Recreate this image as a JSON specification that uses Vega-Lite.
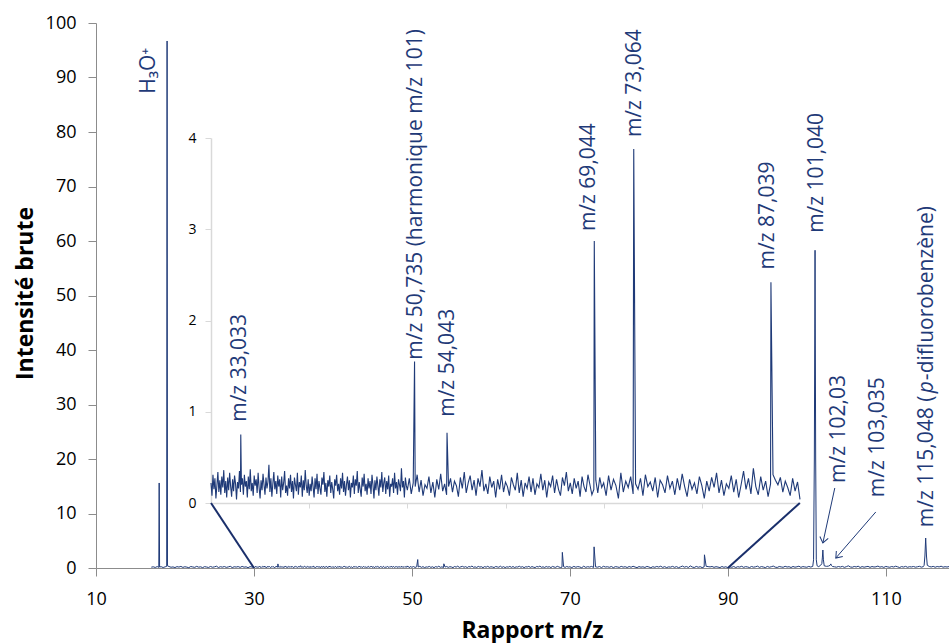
{
"$schema": "https://vega.github.io/schema/vega-lite/v6.json",
"width": 853, "height": 545,
"autosize": {"type": "none"},
"padding": {"left": 96, "top": 23, "right": 0, "bottom": 75},
"background": "white",
"config": {"view": {"stroke": null}, "font": "Open Sans", "axis": {"grid": false}},
"datasets": {
"spec": [
{"mz":17.0,"i":0.15},{"mz":17.25,"i":0.22},{"mz":17.5,"i":0.10},{"mz":17.75,"i":0.26},{"mz":17.95,"i":0.12},{"mz":18.0,"i":15.6},{"mz":18.05,"i":0.18},{"mz":18.25,"i":0.24},{"mz":18.5,"i":0.09},{"mz":18.75,"i":0.21},{"mz":18.95,"i":0.30},{"mz":19.0,"i":96.7},{"mz":19.05,"i":0.40},{"mz":19.25,"i":0.27},{"mz":19.5,"i":0.14},{"mz":19.75,"i":0.20},
{"mz":20.0,"i":0.08},{"mz":20.25,"i":0.25},{"mz":20.5,"i":0.17},{"mz":20.75,"i":0.29},{"mz":21.0,"i":0.11},{"mz":21.25,"i":0.23},{"mz":21.5,"i":0.16},{"mz":21.75,"i":0.06},{"mz":22.0,"i":0.27},{"mz":22.25,"i":0.19},{"mz":22.5,"i":0.12},{"mz":22.75,"i":0.30},{"mz":23.0,"i":0.15},{"mz":23.25,"i":0.22},{"mz":23.5,"i":0.07},{"mz":23.75,"i":0.25},{"mz":24.0,"i":0.18},{"mz":24.25,"i":0.10},{"mz":24.5,"i":0.28},{"mz":24.75,"i":0.14},{"mz":25.0,"i":0.21},{"mz":25.25,"i":0.33},{"mz":25.5,"i":0.09},{"mz":25.75,"i":0.24},{"mz":26.0,"i":0.16},{"mz":26.25,"i":0.27},{"mz":26.5,"i":0.12},{"mz":26.75,"i":0.20},{"mz":27.0,"i":0.31},{"mz":27.25,"i":0.08},{"mz":27.5,"i":0.23},{"mz":27.75,"i":0.17},{"mz":28.0,"i":0.26},{"mz":28.25,"i":0.11},{"mz":28.5,"i":0.29},{"mz":28.75,"i":0.15},{"mz":29.0,"i":0.22},{"mz":29.25,"i":0.06},{"mz":29.5,"i":0.25},{"mz":29.75,"i":0.18},
{"mz":30.0,"i":0.22},{"mz":30.1,"i":0.08},{"mz":30.2,"i":0.31},{"mz":30.3,"i":0.15},{"mz":30.4,"i":0.27},{"mz":30.5,"i":0.05},{"mz":30.6,"i":0.19},{"mz":30.7,"i":0.34},{"mz":30.8,"i":0.12},{"mz":30.9,"i":0.25},
{"mz":31.0,"i":0.09},{"mz":31.1,"i":0.29},{"mz":31.2,"i":0.17},{"mz":31.3,"i":0.36},{"mz":31.4,"i":0.11},{"mz":31.5,"i":0.24},{"mz":31.6,"i":0.06},{"mz":31.7,"i":0.28},{"mz":31.8,"i":0.14},{"mz":31.9,"i":0.33},
{"mz":32.0,"i":0.18},{"mz":32.1,"i":0.07},{"mz":32.2,"i":0.26},{"mz":32.3,"i":0.13},{"mz":32.4,"i":0.30},{"mz":32.5,"i":0.21},{"mz":32.6,"i":0.04},{"mz":32.7,"i":0.23},{"mz":32.8,"i":0.16},{"mz":32.9,"i":0.35},
{"mz":33.0,"i":0.12},{"mz":33.033,"i":0.75},{"mz":33.1,"i":0.20},{"mz":33.2,"i":0.27},{"mz":33.3,"i":0.09},{"mz":33.4,"i":0.31},{"mz":33.5,"i":0.18},{"mz":33.6,"i":0.24},{"mz":33.7,"i":0.06},{"mz":33.8,"i":0.29},{"mz":33.9,"i":0.15},
{"mz":34.0,"i":0.37},{"mz":34.1,"i":0.13},{"mz":34.2,"i":0.22},{"mz":34.3,"i":0.08},{"mz":34.4,"i":0.30},{"mz":34.5,"i":0.19},{"mz":34.6,"i":0.26},{"mz":34.7,"i":0.11},{"mz":34.8,"i":0.33},{"mz":34.9,"i":0.17},
{"mz":35.0,"i":0.05},{"mz":35.1,"i":0.25},{"mz":35.2,"i":0.14},{"mz":35.3,"i":0.32},{"mz":35.4,"i":0.20},{"mz":35.5,"i":0.09},{"mz":35.6,"i":0.28},{"mz":35.7,"i":0.16},{"mz":35.8,"i":0.23},{"mz":35.9,"i":0.42},
{"mz":36.0,"i":0.12},{"mz":36.1,"i":0.27},{"mz":36.2,"i":0.07},{"mz":36.3,"i":0.21},{"mz":36.4,"i":0.34},{"mz":36.5,"i":0.15},{"mz":36.6,"i":0.24},{"mz":36.7,"i":0.10},{"mz":36.8,"i":0.30},{"mz":36.9,"i":0.18},
{"mz":37.0,"i":0.26},{"mz":37.1,"i":0.06},{"mz":37.2,"i":0.29},{"mz":37.3,"i":0.14},{"mz":37.4,"i":0.22},{"mz":37.5,"i":0.35},{"mz":37.6,"i":0.11},{"mz":37.7,"i":0.19},{"mz":37.8,"i":0.08},{"mz":37.9,"i":0.27},
{"mz":38.0,"i":0.16},{"mz":38.1,"i":0.31},{"mz":38.2,"i":0.12},{"mz":38.3,"i":0.24},{"mz":38.4,"i":0.05},{"mz":38.5,"i":0.28},{"mz":38.6,"i":0.20},{"mz":38.7,"i":0.13},{"mz":38.8,"i":0.33},{"mz":38.9,"i":0.09},
{"mz":39.0,"i":0.23},{"mz":39.1,"i":0.17},{"mz":39.2,"i":0.30},{"mz":39.3,"i":0.07},{"mz":39.4,"i":0.25},{"mz":39.5,"i":0.14},{"mz":39.6,"i":0.36},{"mz":39.7,"i":0.19},{"mz":39.8,"i":0.11},{"mz":39.9,"i":0.26},
{"mz":40.0,"i":0.08},{"mz":40.1,"i":0.21},{"mz":40.2,"i":0.13},{"mz":40.3,"i":0.29},{"mz":40.4,"i":0.18},{"mz":40.5,"i":0.06},{"mz":40.6,"i":0.27},{"mz":40.7,"i":0.15},{"mz":40.8,"i":0.32},{"mz":40.9,"i":0.10},
{"mz":41.0,"i":0.24},{"mz":41.1,"i":0.16},{"mz":41.2,"i":0.09},{"mz":41.3,"i":0.28},{"mz":41.4,"i":0.20},{"mz":41.5,"i":0.34},{"mz":41.6,"i":0.12},{"mz":41.7,"i":0.22},{"mz":41.8,"i":0.07},{"mz":41.9,"i":0.25},
{"mz":42.0,"i":0.18},{"mz":42.1,"i":0.30},{"mz":42.2,"i":0.11},{"mz":42.3,"i":0.23},{"mz":42.4,"i":0.15},{"mz":42.5,"i":0.05},{"mz":42.6,"i":0.26},{"mz":42.7,"i":0.19},{"mz":42.8,"i":0.31},{"mz":42.9,"i":0.13},
{"mz":43.0,"i":0.21},{"mz":43.1,"i":0.09},{"mz":43.2,"i":0.27},{"mz":43.3,"i":0.16},{"mz":43.4,"i":0.33},{"mz":43.5,"i":0.12},{"mz":43.6,"i":0.24},{"mz":43.7,"i":0.08},{"mz":43.8,"i":0.20},{"mz":43.9,"i":0.29},
{"mz":44.0,"i":0.14},{"mz":44.1,"i":0.25},{"mz":44.2,"i":0.06},{"mz":44.3,"i":0.22},{"mz":44.4,"i":0.17},{"mz":44.5,"i":0.30},{"mz":44.6,"i":0.10},{"mz":44.7,"i":0.26},{"mz":44.8,"i":0.19},{"mz":44.9,"i":0.35},
{"mz":45.0,"i":0.11},{"mz":45.1,"i":0.23},{"mz":45.2,"i":0.15},{"mz":45.3,"i":0.07},{"mz":45.4,"i":0.28},{"mz":45.5,"i":0.18},{"mz":45.6,"i":0.32},{"mz":45.7,"i":0.13},{"mz":45.8,"i":0.21},{"mz":45.9,"i":0.09},
{"mz":46.0,"i":0.27},{"mz":46.1,"i":0.16},{"mz":46.2,"i":0.24},{"mz":46.3,"i":0.10},{"mz":46.4,"i":0.31},{"mz":46.5,"i":0.20},{"mz":46.6,"i":0.05},{"mz":46.7,"i":0.25},{"mz":46.8,"i":0.14},{"mz":46.9,"i":0.29},
{"mz":47.0,"i":0.19},{"mz":47.1,"i":0.08},{"mz":47.2,"i":0.26},{"mz":47.3,"i":0.17},{"mz":47.4,"i":0.34},{"mz":47.5,"i":0.12},{"mz":47.6,"i":0.22},{"mz":47.7,"i":0.28},{"mz":47.8,"i":0.10},{"mz":47.9,"i":0.24},
{"mz":48.0,"i":0.15},{"mz":48.1,"i":0.30},{"mz":48.2,"i":0.07},{"mz":48.3,"i":0.21},{"mz":48.4,"i":0.18},{"mz":48.5,"i":0.27},{"mz":48.6,"i":0.11},{"mz":48.7,"i":0.33},{"mz":48.8,"i":0.16},{"mz":48.9,"i":0.23},
{"mz":49.0,"i":0.09},{"mz":49.1,"i":0.26},{"mz":49.2,"i":0.20},{"mz":49.3,"i":0.13},{"mz":49.4,"i":0.38},{"mz":49.5,"i":0.17},{"mz":49.6,"i":0.24},{"mz":49.7,"i":0.06},{"mz":49.8,"i":0.28},{"mz":49.9,"i":0.19},
{"mz":50.0,"i":0.14},{"mz":50.2,"i":0.27},{"mz":50.4,"i":0.10},{"mz":50.6,"i":0.22},{"mz":50.735,"i":1.55},{"mz":50.8,"i":0.18},
{"mz":51.0,"i":0.31},{"mz":51.2,"i":0.12},{"mz":51.4,"i":0.25},{"mz":51.6,"i":0.08},{"mz":51.8,"i":0.20},
{"mz":52.0,"i":0.16},{"mz":52.2,"i":0.29},{"mz":52.4,"i":0.11},{"mz":52.6,"i":0.23},{"mz":52.8,"i":0.06},
{"mz":53.0,"i":0.26},{"mz":53.2,"i":0.15},{"mz":53.4,"i":0.32},{"mz":53.6,"i":0.13},{"mz":53.8,"i":0.21},
{"mz":54.0,"i":0.09},{"mz":54.043,"i":0.77},{"mz":54.2,"i":0.18},{"mz":54.4,"i":0.27},{"mz":54.6,"i":0.12},{"mz":54.8,"i":0.24},
{"mz":55.0,"i":0.19},{"mz":55.2,"i":0.07},{"mz":55.4,"i":0.28},{"mz":55.6,"i":0.16},{"mz":55.8,"i":0.34},
{"mz":56.0,"i":0.11},{"mz":56.2,"i":0.22},{"mz":56.4,"i":0.30},{"mz":56.6,"i":0.14},{"mz":56.8,"i":0.25},
{"mz":57.0,"i":0.08},{"mz":57.2,"i":0.27},{"mz":57.4,"i":0.18},{"mz":57.6,"i":0.36},{"mz":57.8,"i":0.13},
{"mz":58.0,"i":0.21},{"mz":58.2,"i":0.10},{"mz":58.4,"i":0.29},{"mz":58.6,"i":0.17},{"mz":58.8,"i":0.24},
{"mz":59.0,"i":0.06},{"mz":59.2,"i":0.26},{"mz":59.4,"i":0.15},{"mz":59.6,"i":0.31},{"mz":59.8,"i":0.12},
{"mz":60.0,"i":0.23},{"mz":60.2,"i":0.18},{"mz":60.4,"i":0.08},{"mz":60.6,"i":0.28},{"mz":60.8,"i":0.20},
{"mz":61.0,"i":0.14},{"mz":61.2,"i":0.33},{"mz":61.4,"i":0.11},{"mz":61.6,"i":0.25},{"mz":61.8,"i":0.07},
{"mz":62.0,"i":0.22},{"mz":62.2,"i":0.16},{"mz":62.4,"i":0.29},{"mz":62.6,"i":0.12},{"mz":62.8,"i":0.27},
{"mz":63.0,"i":0.09},{"mz":63.2,"i":0.21},{"mz":63.4,"i":0.17},{"mz":63.6,"i":0.32},{"mz":63.8,"i":0.14},
{"mz":64.0,"i":0.25},{"mz":64.2,"i":0.06},{"mz":64.4,"i":0.23},{"mz":64.6,"i":0.18},{"mz":64.8,"i":0.30},
{"mz":65.0,"i":0.11},{"mz":65.2,"i":0.26},{"mz":65.4,"i":0.15},{"mz":65.6,"i":0.08},{"mz":65.8,"i":0.28},
{"mz":66.0,"i":0.19},{"mz":66.2,"i":0.34},{"mz":66.4,"i":0.13},{"mz":66.6,"i":0.22},{"mz":66.8,"i":0.10},
{"mz":67.0,"i":0.27},{"mz":67.2,"i":0.16},{"mz":67.4,"i":0.24},{"mz":67.6,"i":0.07},{"mz":67.8,"i":0.29},
{"mz":68.0,"i":0.18},{"mz":68.2,"i":0.12},{"mz":68.4,"i":0.31},{"mz":68.6,"i":0.20},{"mz":68.8,"i":0.09},
{"mz":69.0,"i":0.15},{"mz":69.044,"i":2.87},{"mz":69.2,"i":0.25},{"mz":69.4,"i":0.11},{"mz":69.6,"i":0.28},{"mz":69.8,"i":0.17},
{"mz":70.0,"i":0.22},{"mz":70.25,"i":0.08},{"mz":70.5,"i":0.30},{"mz":70.75,"i":0.14},
{"mz":71.0,"i":0.26},{"mz":71.25,"i":0.19},{"mz":71.5,"i":0.05},{"mz":71.75,"i":0.33},
{"mz":72.0,"i":0.12},{"mz":72.25,"i":0.24},{"mz":72.5,"i":0.17},{"mz":72.75,"i":0.29},
{"mz":73.0,"i":0.10},{"mz":73.064,"i":3.88},{"mz":73.25,"i":0.21},{"mz":73.5,"i":0.15},{"mz":73.75,"i":0.27},
{"mz":74.0,"i":0.08},{"mz":74.25,"i":0.31},{"mz":74.5,"i":0.18},{"mz":74.75,"i":0.23},
{"mz":75.0,"i":0.13},{"mz":75.25,"i":0.28},{"mz":75.5,"i":0.06},{"mz":75.75,"i":0.25},
{"mz":76.0,"i":0.20},{"mz":76.25,"i":0.11},{"mz":76.5,"i":0.30},{"mz":76.75,"i":0.16},
{"mz":77.0,"i":0.24},{"mz":77.25,"i":0.09},{"mz":77.5,"i":0.27},{"mz":77.75,"i":0.14},
{"mz":78.0,"i":0.32},{"mz":78.25,"i":0.18},{"mz":78.5,"i":0.07},{"mz":78.75,"i":0.26},
{"mz":79.0,"i":0.15},{"mz":79.25,"i":0.22},{"mz":79.5,"i":0.10},{"mz":79.75,"i":0.29},
{"mz":80.0,"i":0.19},{"mz":80.25,"i":0.05},{"mz":80.5,"i":0.24},{"mz":80.75,"i":0.13},
{"mz":81.0,"i":0.28},{"mz":81.25,"i":0.17},{"mz":81.5,"i":0.33},{"mz":81.75,"i":0.11},
{"mz":82.0,"i":0.25},{"mz":82.25,"i":0.08},{"mz":82.5,"i":0.21},{"mz":82.75,"i":0.16},
{"mz":83.0,"i":0.30},{"mz":83.25,"i":0.12},{"mz":83.5,"i":0.26},{"mz":83.75,"i":0.06},
{"mz":84.0,"i":0.20},{"mz":84.25,"i":0.35},{"mz":84.5,"i":0.15},{"mz":84.75,"i":0.27},
{"mz":85.0,"i":0.10},{"mz":85.25,"i":0.38},{"mz":85.5,"i":0.18},{"mz":85.75,"i":0.09},
{"mz":86.0,"i":0.29},{"mz":86.25,"i":0.14},{"mz":86.5,"i":0.24},{"mz":86.75,"i":0.07},
{"mz":87.0,"i":0.21},{"mz":87.039,"i":2.42},{"mz":87.25,"i":0.31},{"mz":87.5,"i":0.25},{"mz":87.75,"i":0.20},
{"mz":88.0,"i":0.28},{"mz":88.25,"i":0.12},{"mz":88.5,"i":0.24},{"mz":88.75,"i":0.17},
{"mz":89.0,"i":0.08},{"mz":89.25,"i":0.27},{"mz":89.5,"i":0.13},{"mz":89.75,"i":0.23},
{"mz":90.0,"i":0.04},{"mz":90.25,"i":0.21},{"mz":90.5,"i":0.13},{"mz":90.75,"i":0.27},{"mz":91.0,"i":0.09},{"mz":91.25,"i":0.24},{"mz":91.5,"i":0.17},{"mz":91.75,"i":0.31},{"mz":92.0,"i":0.12},{"mz":92.25,"i":0.25},{"mz":92.5,"i":0.19},{"mz":92.75,"i":0.08},{"mz":93.0,"i":0.28},{"mz":93.25,"i":0.15},{"mz":93.5,"i":0.22},{"mz":93.75,"i":0.34},{"mz":94.0,"i":0.11},{"mz":94.25,"i":0.26},{"mz":94.5,"i":0.18},{"mz":94.75,"i":0.07},{"mz":95.0,"i":0.29},{"mz":95.25,"i":0.14},{"mz":95.5,"i":0.23},{"mz":95.75,"i":0.35},{"mz":96.0,"i":0.16},{"mz":96.25,"i":0.10},{"mz":96.5,"i":0.27},{"mz":96.75,"i":0.20},{"mz":97.0,"i":0.13},{"mz":97.25,"i":0.31},{"mz":97.5,"i":0.18},{"mz":97.75,"i":0.24},{"mz":98.0,"i":0.09},{"mz":98.25,"i":0.28},{"mz":98.5,"i":0.15},{"mz":98.75,"i":0.22},{"mz":99.0,"i":0.33},{"mz":99.25,"i":0.12},{"mz":99.5,"i":0.26},{"mz":99.75,"i":0.19},
{"mz":100.0,"i":0.14},{"mz":100.25,"i":0.29},{"mz":100.5,"i":0.17},{"mz":100.75,"i":0.30},{"mz":100.85,"i":1.5},{"mz":100.95,"i":20},{"mz":101.04,"i":58.3},{"mz":101.12,"i":20},{"mz":101.2,"i":1.5},{"mz":101.3,"i":0.4},{"mz":101.5,"i":0.25},{"mz":101.75,"i":0.5},{"mz":101.9,"i":0.8},{"mz":101.97,"i":2.0},{"mz":102.03,"i":3.3},{"mz":102.1,"i":1.5},{"mz":102.2,"i":0.4},{"mz":102.5,"i":0.3},{"mz":102.75,"i":0.35},{"mz":102.95,"i":0.5},{"mz":103.035,"i":0.75},{"mz":103.12,"i":0.45},{"mz":103.25,"i":0.28},{"mz":103.5,"i":0.22},{"mz":103.75,"i":0.15},
{"mz":104.0,"i":0.27},{"mz":104.25,"i":0.18},{"mz":104.5,"i":0.30},{"mz":104.75,"i":0.12},{"mz":105.0,"i":0.24},{"mz":105.25,"i":0.40},{"mz":105.5,"i":0.20},{"mz":105.75,"i":0.14},{"mz":106.0,"i":0.28},{"mz":106.25,"i":0.19},{"mz":106.5,"i":0.33},{"mz":106.75,"i":0.10},{"mz":107.0,"i":0.26},{"mz":107.25,"i":0.15},{"mz":107.5,"i":0.23},{"mz":107.75,"i":0.30},{"mz":108.0,"i":0.12},{"mz":108.25,"i":0.27},{"mz":108.5,"i":0.18},{"mz":108.75,"i":0.22},{"mz":109.0,"i":0.35},{"mz":109.25,"i":0.16},{"mz":109.5,"i":0.25},{"mz":109.75,"i":0.11},{"mz":110.0,"i":0.29},{"mz":110.25,"i":0.20},{"mz":110.5,"i":0.14},{"mz":110.75,"i":0.27},{"mz":111.0,"i":0.18},{"mz":111.25,"i":0.33},{"mz":111.5,"i":0.21},{"mz":111.75,"i":0.09},{"mz":112.0,"i":0.26},{"mz":112.25,"i":0.17},{"mz":112.5,"i":0.30},{"mz":112.75,"i":0.13},{"mz":113.0,"i":0.24},{"mz":113.25,"i":0.19},{"mz":113.5,"i":0.28},{"mz":113.75,"i":0.15},{"mz":114.0,"i":0.22},{"mz":114.25,"i":0.31},{"mz":114.5,"i":0.16},{"mz":114.75,"i":0.25},{"mz":114.85,"i":0.5},{"mz":114.95,"i":2.2},{"mz":115.048,"i":5.5},{"mz":115.15,"i":2.2},{"mz":115.25,"i":0.5},{"mz":115.5,"i":0.28},{"mz":115.75,"i":0.19},{"mz":116.0,"i":0.30},{"mz":116.25,"i":0.14},{"mz":116.5,"i":0.27},{"mz":116.75,"i":0.20},{"mz":117.0,"i":0.33},{"mz":117.25,"i":0.15},{"mz":117.5,"i":0.24},{"mz":117.75,"i":0.18},{"mz":118.0,"i":0.26}
],
"mainlab": [
{"t":"H₃O⁺","mz":16.7,"i":87.0},
{"t":"m/z 101,040","mz":101.27,"i":61.5},
{"t":"m/z 102,03","mz":104.05,"i":15.6},
{"t":"m/z 103,035","mz":108.99,"i":13.0}
],
"pdfb": [{"mz":115.19,"i":7.5}],
"connectors": [
{"mz":30,"i":0,"mz2":24.56,"i2":11.93},
{"mz":90,"i":0,"mz2":99.11,"i2":11.93}
],
"arrows": [
{"id":1,"mz":103.54,"i":14.68,"mz2":102.03,"i2":4.59},
{"id":2,"mz":108.73,"i":10.28,"mz2":103.67,"i2":1.83}
],
"heads": [
{"id":1,"mz":102.03,"i":4.59},
{"id":2,"mz":103.67,"i":1.83}
],
"insetlab": [
{"t":"m/z 33,033","mz":32.96,"i":0.89},
{"t":"m/z 50,735 (harmonique m/z 101)","mz":50.92,"i":1.57},
{"t":"m/z 54,043","mz":54.18,"i":0.945},
{"t":"m/z 69,044","mz":68.47,"i":2.98},
{"t":"m/z 73,064","mz":73.16,"i":4.01},
{"t":"m/z 87,039","mz":86.73,"i":2.56}
]
},
"layer": [
{
"encoding": {
"x": {"field": "mz", "type": "quantitative",
 "scale": {"domain": [10, 118], "nice": false, "zero": false},
 "axis": {"values": [10, 30, 50, 70, 90, 110], "title": "Rapport m/z", "domainColor": "#8c8c8c", "tickColor": "#8c8c8c", "tickSize": 8, "labelFontSize": 18, "labelColor": "#000000", "labelPadding": 14, "titleFontSize": 23, "titleFontWeight": "bold", "titleColor": "#000000", "titleX": 436, "titleY": 69, "titleBaseline": "alphabetic", "titleAlign": "center", "labelFlush": false}},
"y": {"field": "i", "type": "quantitative",
 "scale": {"domain": [0, 100], "nice": false},
 "axis": {"values": [0, 10, 20, 30, 40, 50, 60, 70, 80, 90, 100], "title": "Intensité brute", "domainColor": "#8c8c8c", "tickColor": "#8c8c8c", "tickSize": 8, "labelFontSize": 18, "labelColor": "#000000", "labelPadding": 12, "titleFontSize": 23, "titleFontWeight": "bold", "titleColor": "#000000", "titleX": -64, "titleY": 270, "titleBaseline": "alphabetic", "titleAlign": "center", "titleAngle": 270}}
},
"layer": [
{"data": {"name": "spec"}, "mark": {"type": "line", "color": "#1f3a78", "strokeWidth": 1}},
{"data": {"name": "connectors"}, "mark": {"type": "rule", "color": "#1a2f6b", "strokeWidth": 2}, "encoding": {"x2": {"field": "mz2"}, "y2": {"field": "i2"}}},
{"data": {"name": "arrows"}, "mark": {"type": "rule", "color": "#1f3a78", "strokeWidth": 1}, "encoding": {"x2": {"field": "mz2"}, "y2": {"field": "i2"}}},
{"data": {"name": "heads"}, "transform": [{"filter": "datum.id == 1"}], "mark": {"type": "point", "shape": "M-1,-0.75L0,0L-1,0.75", "filled": false, "stroke": "#1f3a78", "strokeWidth": 1, "size": 130, "angle": 102, "opacity": 1}},
{"data": {"name": "heads"}, "transform": [{"filter": "datum.id == 2"}], "mark": {"type": "point", "shape": "M-1,-0.75L0,0L-1,0.75", "filled": false, "stroke": "#1f3a78", "strokeWidth": 1, "size": 130, "angle": 131, "opacity": 1}},
{"data": {"name": "mainlab"}, "mark": {"type": "text", "angle": 270, "align": "left", "baseline": "middle", "fontSize": 21, "color": "#1f3a78"}, "encoding": {"text": {"field": "t"}}},
{"data": {"name": "pdfb"}, "mark": {"type": "text", "angle": 270, "align": "left", "baseline": "middle", "fontSize": 21, "color": "#1f3a78", "text": "m/z 115,048 ("}},
{"data": {"name": "pdfb"}, "mark": {"type": "text", "angle": 270, "align": "left", "baseline": "middle", "fontSize": 21, "color": "#1f3a78", "fontStyle": "italic", "text": "p", "dx": 134}},
{"data": {"name": "pdfb"}, "mark": {"type": "text", "angle": 270, "align": "left", "baseline": "middle", "fontSize": 21, "color": "#1f3a78", "text": "-difluorobenzène)", "dx": 147}}
]
},
{
"encoding": {
"x": {"field": "mz", "type": "quantitative",
 "scale": {"domain": [30, 90], "range": [115, 704], "nice": false, "zero": false},
 "axis": {"orient": "bottom", "offset": -65, "values": [40, 50, 60, 70, 80], "labels": false, "title": null, "domainColor": "#d9d9d9", "tickColor": "#d9d9d9", "tickSize": 5, "domainWidth": 1.5}},
"y": {"field": "i", "type": "quantitative",
 "scale": {"domain": [0, 4], "range": [480, 115], "nice": false},
 "axis": {"orient": "left", "offset": -115, "values": [0, 1, 2, 3, 4], "title": null, "domainColor": "#d9d9d9", "tickColor": "#d9d9d9", "tickSize": 6, "labelFontSize": 14, "labelColor": "#000000", "labelPadding": 9, "domainWidth": 1.5}}
},
"layer": [
{"data": {"name": "spec"}, "transform": [{"filter": {"field": "mz", "range": [30, 90]}}], "mark": {"type": "line", "color": "#1f3a78", "strokeWidth": 1.1}},
{"data": {"name": "insetlab"}, "mark": {"type": "text", "angle": 270, "align": "left", "baseline": "middle", "fontSize": 21, "color": "#1f3a78"}, "encoding": {"text": {"field": "t"}}}
]
}
],
"resolve": {"scale": {"x": "independent", "y": "independent"}, "axis": {"x": "independent", "y": "independent"}}
}
